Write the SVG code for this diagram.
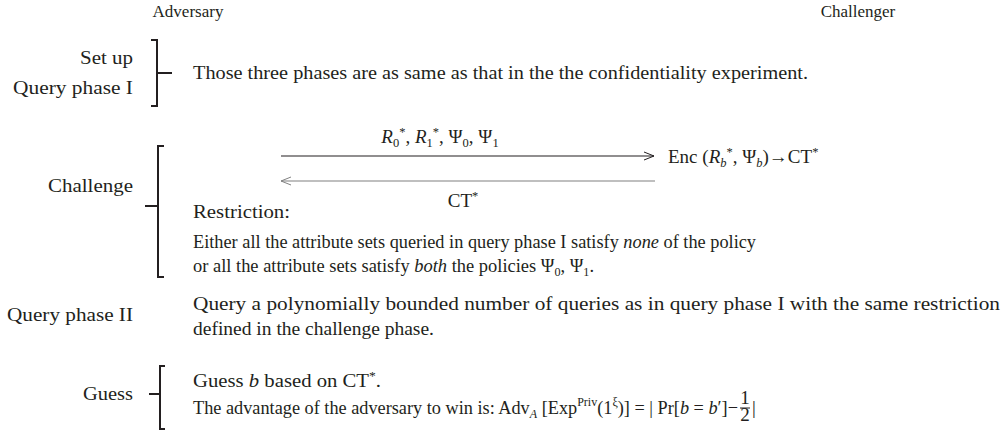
<svg xmlns="http://www.w3.org/2000/svg" width="1007" height="439" viewBox="0 0 1007 439">
<style>
text{font-family:"Liberation Serif","Times New Roman",serif;font-size:19px;fill:#231f20}
.h{font-size:17px}
.r{text-anchor:end}
.m{text-anchor:middle}
.i{font-style:italic}
.s{font-size:12.5px}
.br{fill:none;stroke:#231f20;stroke-width:2}
.ar{fill:none;stroke:#231f20;stroke-width:1.2}
.ar2{fill:none;stroke:#808080;stroke-width:1.2}
</style>
<defs>
<marker id="ah" viewBox="0 0 10 10" refX="10" refY="5" markerWidth="10" markerHeight="10" markerUnits="userSpaceOnUse" orient="auto"><path d="M0,1 L10,5 L0,9" fill="none" stroke="#231f20" stroke-width="1"/></marker>
<marker id="ah2" viewBox="0 0 10 10" refX="10" refY="5" markerWidth="10" markerHeight="10" markerUnits="userSpaceOnUse" orient="auto"><path d="M0,1 L10,5 L0,9" fill="none" stroke="#808080" stroke-width="1"/></marker>
</defs>
<g id="header">
<text x="188" y="17" class="m h">Adversary</text>
<text x="858" y="17" class="m h">Challenger</text>
</g>
<g id="setup">
<text x="80" y="64" textLength="53" lengthAdjust="spacingAndGlyphs">Set up</text>
<text x="13" y="94" textLength="120" lengthAdjust="spacingAndGlyphs">Query phase I</text>
<path class="br" d="M151,40 H157 V106 H151 M157,73 H172"/>
<text x="193" y="79" textLength="615" lengthAdjust="spacingAndGlyphs">Those three phases are as same as that in the the confidentiality experiment.</text>
</g>
<g id="challenge">
<text x="48" y="192" textLength="85" lengthAdjust="spacingAndGlyphs">Challenge</text>
<path class="br" d="M164,146 H158 V277 H164 M158,206 H145"/>
<text x="440" y="143" class="m"><tspan class="i">R</tspan><tspan class="s" dy="4">0</tspan><tspan class="s" dy="-11">*</tspan><tspan dy="7">, </tspan><tspan class="i">R</tspan><tspan class="s" dy="4">1</tspan><tspan class="s" dy="-11">*</tspan><tspan dy="7">, Ψ</tspan><tspan class="s" dy="4">0</tspan><tspan dy="-4">, Ψ</tspan><tspan class="s" dy="4">1</tspan></text>
<text x="668" y="163"><tspan>Enc (</tspan><tspan class="i">R</tspan><tspan class="s i" dy="4">b</tspan><tspan class="s" dy="-11">*</tspan><tspan dy="7">, Ψ</tspan><tspan class="s i" dy="4">b</tspan><tspan dy="-4">)→CT</tspan><tspan class="s" dy="-7">*</tspan></text>
<text x="463" y="207" class="m">CT<tspan class="s" dy="-7">*</tspan></text>
<text x="193" y="218" textLength="97" lengthAdjust="spacingAndGlyphs">Restriction:</text>
<text x="193" y="248" textLength="563" lengthAdjust="spacingAndGlyphs">Either all the attribute sets queried in query phase I satisfy <tspan class="i">none</tspan> of the policy</text>
<text x="193" y="272" textLength="401" lengthAdjust="spacingAndGlyphs">or all the attribute sets satisfy <tspan class="i">both</tspan> the policies Ψ<tspan class="s" dy="4">0</tspan><tspan dy="-4">, Ψ</tspan><tspan class="s" dy="4">1</tspan><tspan dy="-4">.</tspan></text>
</g>
<g id="query2">
<text x="7" y="321" textLength="126" lengthAdjust="spacingAndGlyphs">Query phase II</text>
<text x="193" y="310" textLength="807" lengthAdjust="spacingAndGlyphs">Query a polynomially bounded number of queries as in query phase I with the same restriction</text>
<text x="193" y="335" textLength="241" lengthAdjust="spacingAndGlyphs">defined in the challenge phase.</text>
</g>
<g id="guess">
<text x="83" y="400" textLength="50" lengthAdjust="spacingAndGlyphs">Guess</text>
<path class="br" d="M165,366 H160 V429 H165 M160,394 H149"/>
<text x="193" y="387" textLength="188" lengthAdjust="spacingAndGlyphs">Guess <tspan class="i">b</tspan> based on CT<tspan class="s" dy="-7">*</tspan><tspan dy="7">.</tspan></text>
<text x="193" y="414" textLength="545" lengthAdjust="spacingAndGlyphs">The advantage of the adversary to win is: Adv<tspan class="s i" dy="4">A</tspan><tspan dy="-4"> [Exp</tspan><tspan class="s" dy="-8">Priv</tspan><tspan dy="8">(1</tspan><tspan class="s" dy="-8">ξ</tspan><tspan dy="8">)] = | Pr[</tspan><tspan class="i">b</tspan> = <tspan class="i">b</tspan>′]−</text>
<text x="745" y="404" class="m" font-size="14">1</text>
<line x1="740" y1="408" x2="750" y2="408" stroke="#231f20" stroke-width="1"/>
<text x="745" y="421" class="m" font-size="14">2</text>
<text x="752" y="414">|</text>
</g>
<g id="connectors">
<line class="ar" x1="281" y1="156" x2="654" y2="156" marker-end="url(#ah)"/>
<line class="ar2" x1="655" y1="181" x2="281" y2="181" marker-end="url(#ah2)"/>
</g>
</svg>
